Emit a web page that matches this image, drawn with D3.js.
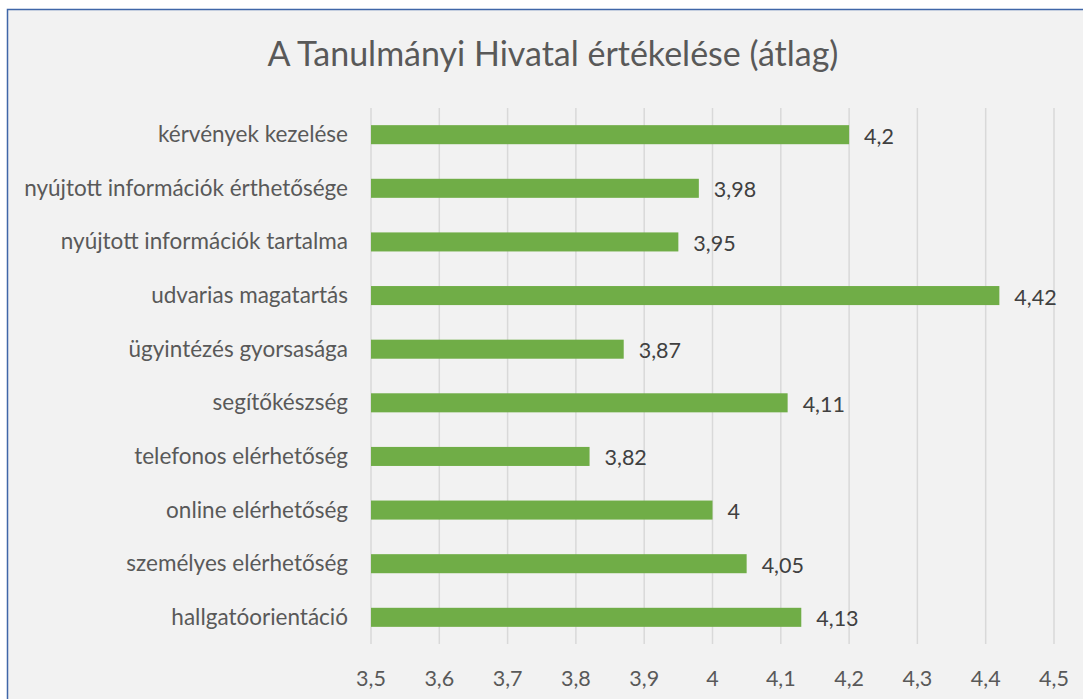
<!DOCTYPE html>
<html>
<head>
<meta charset="utf-8">
<script src="https://cdn.jsdelivr.net/npm/d3@7"></script>
<style>
  body { margin: 0; background: #fff; }
  svg { display: block; }
</style>
</head>
<body>
<div class="chart"></div>
<script>
const categories = [
    "kérvények kezelése",
    "nyújtott információk érthetősége",
    "nyújtott információk tartalma",
    "udvarias magatartás",
    "ügyintézés gyorsasága",
    "segítőkészség",
    "telefonos elérhetőség",
    "online elérhetőség",
    "személyes elérhetőség",
    "hallgatóorientáció"
];
const values = [4.2, 3.98, 3.95, 4.42, 3.87, 4.11, 3.82, 4, 4.05, 4.13];
const ticks = [3.5, 3.6, 3.7, 3.8, 3.9, 4, 4.1, 4.2, 4.3, 4.4, 4.5];
const title = "A Tanulmányi Hivatal értékelése (átlag)";

const fmt = v => String(v).replace(".", ",");
const font = "Lato, sans-serif";

const svg = d3.select(".chart")
    .append("svg")
    .attr("width", 1083)
    .attr("height", 699);

// chart frame
svg.append("rect")
    .attr("x", 7.5).attr("y", 9.5)
    .attr("width", 1100).attr("height", 720)
    .attr("fill", "#f2f2f2")
    .attr("stroke", "#3f66a8")
    .attr("stroke-width", 1.5);

svg.append("text")
    .text(title)
    .attr("x", 553).attr("y", 66)
    .attr("text-anchor", "middle")
    .attr("font-family", font)
    .attr("font-size", "34px")
    .attr("fill", "#595959");

const xScale = d3.scaleLinear()
    .domain([3.5, 4.5])
    .range([371, 1054]);

const yScale = d3.scaleBand()
    .domain(categories)
    .range([108, 644])
    .paddingInner(0.645)
    .paddingOuter(0.32);

// gridlines
svg.append("g")
    .selectAll("line")
    .data(ticks)
    .join("line")
        .attr("x1", d => xScale(d)).attr("x2", d => xScale(d))
        .attr("y1", 108).attr("y2", 644)
        .attr("stroke", "#d9d9d9")
        .attr("stroke-width", 1.5);

// tick labels
svg.append("g")
    .selectAll("text")
    .data(ticks)
    .join("text")
        .text(d => fmt(d))
        .attr("x", d => xScale(d))
        .attr("y", 686)
        .attr("text-anchor", "middle")
        .attr("font-family", font)
        .attr("font-size", "21.5px")
        .attr("fill", "#595959");

const barAndLabel = svg.append("g")
    .selectAll("g")
    .data(categories.map((c, i) => ({ cat: c, val: values[i] })))
    .join("g")
        .attr("transform", d => `translate(0, ${yScale(d.cat)})`);

barAndLabel.append("rect")
    .attr("x", xScale(3.5))
    .attr("y", 0)
    .attr("width", d => xScale(d.val) - xScale(3.5))
    .attr("height", yScale.bandwidth())
    .attr("fill", "#70ad47");

barAndLabel.append("text")
    .text(d => d.cat)
    .attr("x", 348)
    .attr("y", yScale.bandwidth() / 2 + 7.5)
    .attr("text-anchor", "end")
    .attr("font-family", font)
    .attr("font-size", "22.5px")
    .attr("fill", "#595959");

barAndLabel.append("text")
    .text(d => fmt(d.val))
    .attr("x", d => xScale(d.val) + 15)
    .attr("y", yScale.bandwidth() / 2 + 9)
    .attr("font-family", font)
    .attr("font-size", "21.5px")
    .attr("fill", "#404040");
</script>
</body>
</html>
